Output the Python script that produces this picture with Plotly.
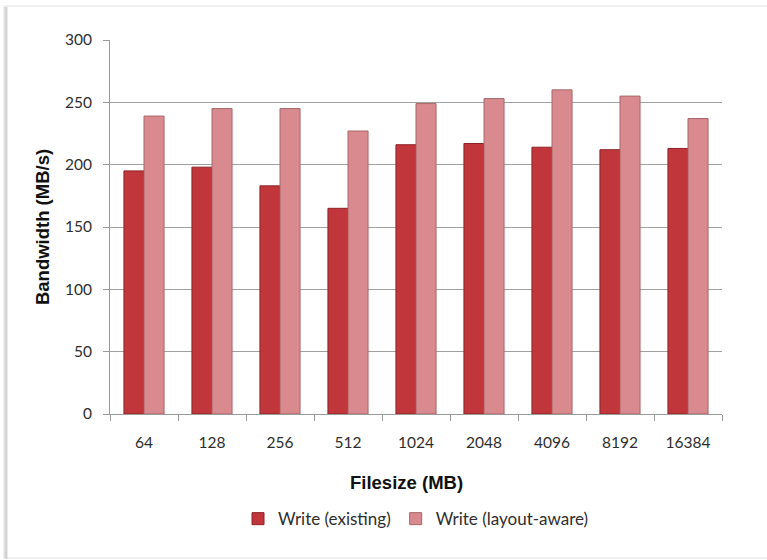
import plotly.graph_objects as go

# Write bandwidth per file size, two write strategies
filesizes = ["64", "128", "256", "512", "1024", "2048", "4096", "8192", "16384"]
write_existing = [195, 198, 183, 165, 216, 217, 214, 212, 213]
write_layout_aware = [239, 245, 245, 227, 249, 253, 260, 255, 237]
y_ticks = [0, 50, 100, 150, 200, 250, 300]

tick_font = dict(family="Lato, Calibri, sans-serif", size=15.5, color="#2e2e2e")
title_font = dict(family="Liberation Sans, Arial, sans-serif", size=18.5, color="#111111")

fig = go.Figure()
fig.add_trace(go.Bar(
    x=filesizes, y=write_existing, name="Write (existing)",
    marker=dict(color="#C0363B", line=dict(color="#8E2226", width=1)),
))
fig.add_trace(go.Bar(
    x=filesizes, y=write_layout_aware, name="Write (layout-aware)",
    marker=dict(color="#D98A8E", line=dict(color="#A8666A", width=1)),
))

fig.update_layout(
    width=767, height=560,
    margin=dict(l=110, r=45, t=40, b=146),
    paper_bgcolor="white", plot_bgcolor="white",
    barmode="group", bargap=0.41, bargroupgap=0.0,
    showlegend=True,
    legend=dict(orientation="h", x=0.5, xanchor="center", y=-0.281, yanchor="middle",
                font=dict(family="Lato, Calibri, sans-serif", size=17, color="#2e2e2e"),
                itemwidth=30, tracegroupgap=0),
    xaxis=dict(
        type="category", tickfont=tick_font, showgrid=False,
        showline=True, linecolor="#9a9a9a", linewidth=1,
        ticks="outside", tickson="boundaries", ticklen=6, tickcolor="#9a9a9a",
        ticklabelstandoff=14,
    ),
    yaxis=dict(
        range=[0, 300], tickvals=y_ticks, tickfont=tick_font,
        showgrid=True, gridcolor="#a0a0a0", gridwidth=1,
        showline=True, linecolor="#9a9a9a", linewidth=1,
        ticks="outside", ticklen=6, tickcolor="#9a9a9a",
        ticklabelstandoff=8, zeroline=False,
    ),
    annotations=[
        dict(text="<b>Bandwidth (MB/s)</b>", textangle=-90, font=title_font,
             xref="paper", yref="paper", x=-0.111, y=0.5,
             xanchor="center", yanchor="middle", showarrow=False),
        dict(text="<b>Filesize (MB)</b>", font=title_font,
             xref="paper", yref="paper", x=0.485, y=-0.182,
             xanchor="center", yanchor="middle", showarrow=False),
    ],
    shapes=[
        # chart frame with a soft left shadow
        dict(type="line", xref="paper", yref="paper", x0=-0.170, x1=-0.170, y0=-0.387, y1=1.088,
             line=dict(color="#d4d4d4", width=3)),
        dict(type="rect", xref="paper", yref="paper", x0=-0.1732, x1=1.10, y0=-0.385, y1=1.091,
             line=dict(color="#e2e2e2", width=1), layer="below"),
    ],
)

fig.write_html("out.html")
